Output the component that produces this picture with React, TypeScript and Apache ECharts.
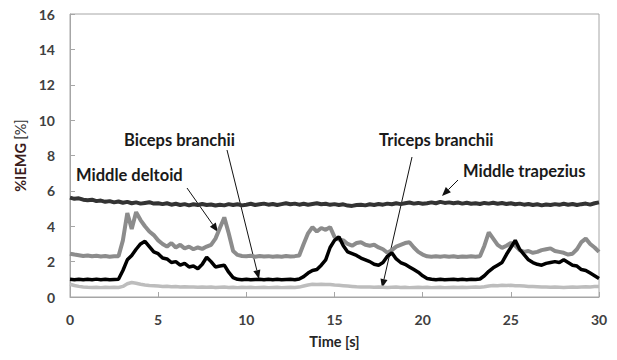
import React, { useEffect, useRef } from "react";
import * as echarts from "echarts";

const STEP_S = 0.25;
const X_TICKS = [0, 5, 10, 15, 20, 25, 30];
const Y_TICKS = [0, 2, 4, 6, 8, 10, 12, 14, 16];

const TRAPEZIUS = [
  5.62, 5.55, 5.58, 5.5, 5.47, 5.5, 5.42, 5.45, 5.38, 5.42,
  5.35, 5.4, 5.33, 5.38, 5.3, 5.35, 5.28, 5.32, 5.36, 5.28,
  5.3, 5.25, 5.3, 5.22, 5.27, 5.2, 5.25, 5.18, 5.24, 5.2,
  5.26, 5.2, 5.23, 5.17, 5.22, 5.18, 5.25, 5.2, 5.24, 5.18,
  5.22, 5.27, 5.2, 5.24, 5.28, 5.22, 5.26, 5.2, 5.25, 5.3,
  5.24, 5.28, 5.22, 5.27, 5.22, 5.26, 5.3, 5.24, 5.27, 5.21,
  5.25, 5.2, 5.24, 5.17, 5.15, 5.2, 5.22, 5.18, 5.24, 5.2,
  5.26, 5.22, 5.28, 5.24, 5.3, 5.25, 5.3, 5.34, 5.28, 5.32,
  5.27, 5.3, 5.35, 5.3, 5.38, 5.32, 5.35, 5.3, 5.34, 5.28,
  5.33, 5.27, 5.3, 5.26, 5.32, 5.28, 5.33, 5.27, 5.31, 5.26,
  5.3, 5.24, 5.28, 5.22, 5.26, 5.2, 5.24, 5.18, 5.23, 5.2,
  5.25, 5.21, 5.27, 5.22, 5.26, 5.2, 5.25, 5.28, 5.22, 5.3,
  5.35,
];

const DELTOID = [
  2.45, 2.4, 2.36, 2.32, 2.35, 2.3, 2.33, 2.29, 2.32, 2.28,
  2.31, 2.3, 3.2, 4.75, 3.85, 4.8, 4.35, 4.0, 3.7, 3.5,
  3.2, 3.0, 2.85, 3.05, 2.8, 2.95, 2.75, 2.85, 2.7, 2.8,
  2.72, 2.85, 2.95, 3.3, 3.9, 4.5, 3.6, 2.6, 2.38, 2.32,
  2.3, 2.33, 2.28, 2.32, 2.29, 2.31, 2.27, 2.3, 2.28, 2.32,
  2.29, 2.31, 2.35, 3.0, 3.6, 3.95, 3.7, 3.9, 3.8, 3.95,
  3.4, 3.25, 3.2, 3.0, 2.9, 3.05, 3.1, 2.95, 2.9, 2.95,
  2.8, 2.7, 2.5, 2.65, 2.85, 2.95, 3.05, 3.1, 2.8, 2.55,
  2.4, 2.3, 2.28, 2.3, 2.27, 2.31, 2.28, 2.3, 2.26, 2.29,
  2.27, 2.3, 2.28, 2.3, 2.9, 3.65, 3.3, 2.95, 2.78, 2.9,
  3.05, 2.9, 2.65, 2.55, 2.6, 2.5, 2.55, 2.65, 2.7, 2.75,
  2.6, 2.55, 2.5, 2.4, 2.45, 2.7, 3.1, 3.3, 3.0, 2.8,
  2.55,
];

const BICEPS = [
  1.0, 0.98, 1.0, 0.97, 1.0, 0.98, 1.01, 0.98, 1.0, 0.97,
  0.99, 1.0, 1.5, 2.1, 2.35, 2.7, 3.0, 3.15, 2.85, 2.55,
  2.45, 2.2, 2.15, 1.95, 2.0, 1.8, 1.9, 1.7, 1.75, 1.6,
  1.85, 2.25, 2.0, 1.7, 1.75, 1.8, 1.4, 1.1, 1.0, 0.98,
  1.0, 0.97, 0.99, 1.0, 0.97, 1.0, 0.98, 1.0, 0.97, 0.99,
  1.0, 0.98, 1.02, 1.15, 1.35, 1.5, 1.55, 1.8, 2.1, 2.8,
  3.2, 3.4, 2.9, 2.55, 2.45, 2.35, 2.2, 2.1, 2.0, 1.85,
  1.8, 1.95, 2.3, 2.5, 2.15, 1.95, 1.85, 1.7, 1.55, 1.4,
  1.2, 1.05, 1.0, 0.98, 1.0, 0.97, 0.99, 1.0, 0.97, 1.0,
  0.98, 1.0, 0.99, 1.02, 1.2, 1.45, 1.65, 1.8, 1.95, 2.4,
  2.8, 3.2, 2.7, 2.4, 2.1, 1.95, 1.85, 1.8, 1.9, 1.95,
  2.0, 1.95, 2.1, 1.95, 1.8, 1.75, 1.55, 1.5, 1.35, 1.2,
  1.05,
];

const TRICEPS = [
  0.72, 0.65, 0.6, 0.57, 0.55, 0.54, 0.55, 0.53, 0.55, 0.54,
  0.55, 0.54, 0.6, 0.75, 0.82, 0.78, 0.72, 0.68, 0.65, 0.64,
  0.62, 0.6, 0.61, 0.58, 0.59, 0.57, 0.58, 0.56, 0.57, 0.55,
  0.56, 0.55, 0.56, 0.54, 0.55, 0.56, 0.54, 0.55, 0.53, 0.55,
  0.54, 0.55, 0.53, 0.54, 0.55, 0.53, 0.54, 0.55, 0.53, 0.54,
  0.55, 0.54, 0.56, 0.62, 0.68, 0.72, 0.7, 0.72, 0.7, 0.71,
  0.68, 0.66, 0.64, 0.62, 0.6, 0.58, 0.57, 0.56, 0.57, 0.55,
  0.56, 0.55, 0.54, 0.55, 0.56, 0.54, 0.55, 0.53, 0.54, 0.55,
  0.54, 0.55, 0.53, 0.54, 0.55, 0.53, 0.54, 0.55, 0.54, 0.55,
  0.54, 0.55, 0.56, 0.55, 0.58, 0.62, 0.65, 0.64, 0.66, 0.65,
  0.66, 0.64, 0.63, 0.62, 0.6, 0.59, 0.58, 0.57, 0.56, 0.55,
  0.56, 0.55, 0.54, 0.55, 0.56, 0.55, 0.57, 0.58, 0.57, 0.59,
  0.6,
];

const LABELS = ["Biceps branchii", "Middle deltoid", "Triceps branchii", "Middle trapezius"];

const FONT = "Lato, 'Open Sans', sans-serif";

function toPairs(vals: number[]) {
  return vals.map((v, i) => [i * STEP_S, v]);
}

function arrow(x1: number, y1: number, x2: number, y2: number) {
  const dx = x2 - x1;
  const dy = y2 - y1;
  const len = Math.sqrt(dx * dx + dy * dy);
  const ux = dx / len;
  const uy = dy / len;
  const hl = 9;
  const hw = 3.6;
  const bx = x2 - ux * hl;
  const by = y2 - uy * hl;
  return [
    {
      type: "line",
      shape: { x1, y1, x2: bx, y2: by },
      style: { stroke: "#111", lineWidth: 1 },
    },
    {
      type: "polygon",
      shape: {
        points: [
          [x2, y2],
          [bx - uy * hw, by + ux * hw],
          [bx + uy * hw, by - ux * hw],
        ],
      },
      style: { fill: "#111" },
    },
  ];
}

function label(text: string, x: number, y: number) {
  return {
    type: "text",
    x,
    y,
    style: {
      text,
      fill: "#1a1a1a",
      font: `bold 16.5px ${FONT}`,
      textAlign: "left",
      textVerticalAlign: "middle",
    },
  };
}

export default function App() {
  const ref = useRef<HTMLDivElement>(null);
  useEffect(() => {
    if (!ref.current) return;
    const chart = echarts.init(ref.current, undefined, { renderer: "svg" });
    const axisCommon = {
      type: "value" as const,
      axisLine: { show: true, lineStyle: { color: "#a6a6a6", width: 1 } },
      axisTick: { show: true, inside: true, length: 5, lineStyle: { color: "#a6a6a6" } },
      splitLine: { show: false },
      axisLabel: {
        color: "#404040",
        fontWeight: "bold" as const,
        fontSize: 14,
        fontFamily: FONT,
        margin: 15,
      },
    };
    chart.setOption({
      animation: false,
      grid: {
        left: 70,
        top: 14,
        right: 18,
        bottom: 63,
        show: true,
        borderColor: "#a6a6a6",
        borderWidth: 1,
        backgroundColor: "#fff",
      },
      xAxis: {
        ...axisCommon,
        min: X_TICKS[0],
        max: X_TICKS[X_TICKS.length - 1],
        interval: 5,
        name: "Time [s]",
        nameLocation: "middle",
        nameGap: 37,
        nameTextStyle: { color: "#262626", fontWeight: "bold", fontSize: 14.5, fontFamily: FONT },
      },
      yAxis: {
        ...axisCommon,
        min: Y_TICKS[0],
        max: Y_TICKS[Y_TICKS.length - 1],
        interval: 2,
        name: "{a|%IEMG} {b|[%]}",
        nameLocation: "middle",
        nameGap: 42,
        nameTextStyle: {
          rich: {
            a: { color: "#3a1c1c", fontWeight: "bold", fontSize: 14.5, fontFamily: FONT },
            b: { color: "#333", fontSize: 14.5, fontFamily: FONT },
          },
        },
      },
      series: [
        {
          name: LABELS[2],
          type: "line",
          data: toPairs(TRICEPS),
          showSymbol: false,
          lineStyle: { color: "#bdbdbd", width: 3.5 },
        },
        {
          name: LABELS[1],
          type: "line",
          data: toPairs(DELTOID),
          showSymbol: false,
          lineStyle: { color: "#8c8c8c", width: 4 },
        },
        {
          name: LABELS[3],
          type: "line",
          data: toPairs(TRAPEZIUS),
          showSymbol: false,
          lineStyle: { color: "#333333", width: 4 },
        },
        {
          name: LABELS[0],
          type: "line",
          data: toPairs(BICEPS),
          showSymbol: false,
          lineStyle: { color: "#000000", width: 3.5 },
        },
      ],
      graphic: [
        label(LABELS[0], 124, 140),
        label(LABELS[1], 76, 175),
        label(LABELS[2], 379, 140),
        label(LABELS[3], 463, 171),
        ...arrow(187, 188, 218, 232),
        ...arrow(227, 150, 259, 279),
        ...arrow(412, 157, 382, 288),
        ...arrow(458, 180, 442, 196),
      ],
    });
    return () => chart.dispose();
  }, []);
  return (
    <div
      ref={ref}
      style={{ position: "absolute", left: 0, top: 0, width: 617, height: 360, background: "#fff" }}
    />
  );
}
